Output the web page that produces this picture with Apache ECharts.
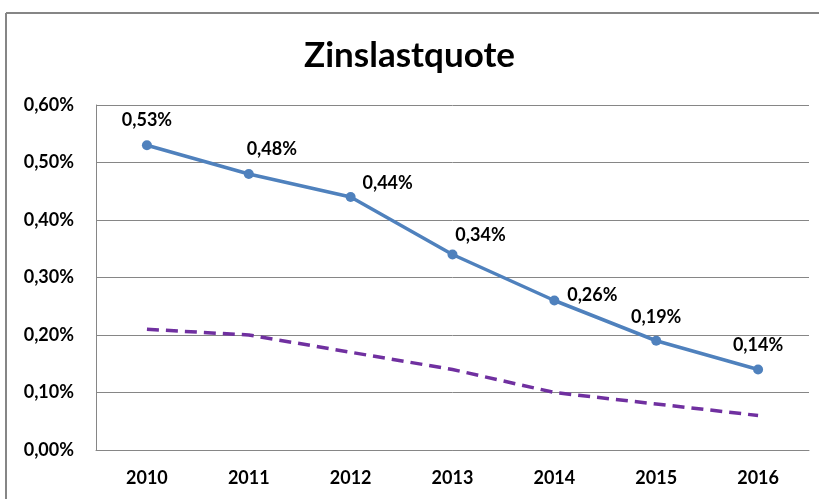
<!DOCTYPE html>
<html>
<head>
<meta charset="utf-8">
<script src="https://cdn.jsdelivr.net/npm/echarts@6/dist/echarts.min.js"></script>
<style>
  html, body { margin: 0; padding: 0; background: #fff; }
  #chart { width: 819px; height: 499px; }
</style>
</head>
<body>
<div id="chart"></div>
<script>
// Zinslastquote 2010-2016
const years = ['2010', '2011', '2012', '2013', '2014', '2015', '2016'];
const zinslast = [0.53, 0.48, 0.44, 0.34, 0.26, 0.19, 0.14];
const vergleich = [0.21, 0.20, 0.17, 0.14, 0.10, 0.08, 0.06];
const yTicks = [0, 0.1, 0.2, 0.3, 0.4, 0.5, 0.6];

// label placement, Excel put them a bit off to the right in places
const labelShift = [[0, -25], [23, -25], [37, -14], [28, -19], [38, -5], [0, -24], [0, -24]];

const fmt = v => v.toFixed(2).replace('.', ',') + '%';
const font = 'Lato, "Liberation Sans", sans-serif';

const chart = echarts.init(document.getElementById('chart'));

chart.setOption({
  animation: false,
  title: {
    text: 'Zinslastquote',
    left: 'center',
    top: 33,
    textStyle: { fontFamily: font, fontWeight: 'bold', fontSize: 35, color: '#000' }
  },
  grid: { left: 96, right: 10, top: 105, bottom: 49 },
  // outer chart frame, only top and left edge are inside the picture
  graphic: [
    { type: 'line', shape: { x1: 6, y1: 13, x2: 819, y2: 13 }, style: { stroke: '#868686', lineWidth: 2 } },
    { type: 'line', shape: { x1: 6, y1: 13, x2: 6, y2: 499 }, style: { stroke: '#868686', lineWidth: 2 } }
  ],
  xAxis: {
    type: 'category',
    data: years,
    boundaryGap: true,
    axisLine: { lineStyle: { color: '#868686' } },
    axisTick: { show: false },
    axisLabel: { fontFamily: font, fontWeight: 'bold', fontSize: 18, color: '#000', margin: 19 }
  },
  yAxis: {
    type: 'value',
    min: yTicks[0],
    max: yTicks[yTicks.length - 1],
    interval: 0.1,
    axisLine: { show: true, lineStyle: { color: '#868686' } },
    axisTick: { show: false },
    splitLine: { lineStyle: { color: '#868686' } },
    axisLabel: { fontFamily: font, fontWeight: 'bold', fontSize: 18, color: '#000', margin: 22, formatter: fmt }
  },
  series: [
    {
      type: 'line',
      data: zinslast.map((v, i) => ({
        value: v,
        label: { offset: labelShift[i] }
      })),
      symbol: 'circle',
      symbolSize: 10,
      lineStyle: { color: '#4F81BD', width: 3.5 },
      itemStyle: { color: '#4F81BD' },
      label: {
        show: true,
        position: 'inside',
        formatter: p => fmt(p.value),
        fontFamily: font,
        fontWeight: 'bold',
        fontSize: 18,
        color: '#000'
      },
      z: 3
    },
    {
      type: 'line',
      data: vergleich,
      symbol: 'none',
      lineStyle: { color: '#7030A0', width: 3.5, type: [12, 7] },
      z: 2
    }
  ]
});
</script>
</body>
</html>
